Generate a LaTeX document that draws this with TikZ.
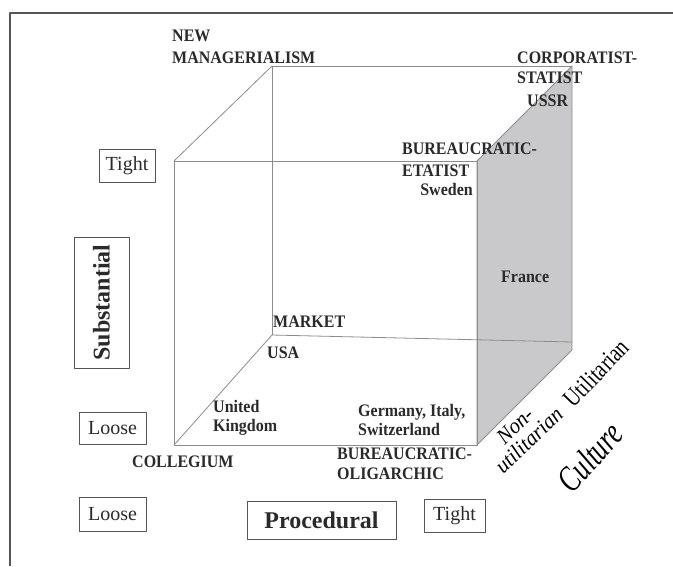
\documentclass[tikz,border=0pt]{standalone}
\usepackage{fontspec}
\setmainfont{Liberation Serif}
\usetikzlibrary{positioning}

\definecolor{txtgray}{HTML}{2A2A2A}
\definecolor{linegray}{HTML}{8C8C8C}
\definecolor{boxgray}{HTML}{555555}
\definecolor{facegray}{HTML}{C9C9CB}

\begin{document}
\begin{tikzpicture}[x=1pt,y=-1pt,line join=round]
	\tikzstyle{lbl}=[inner sep=0,text=txtgray,font=\fontsize{16}{17.5}\selectfont\bfseries,align=left,yscale=1.1]
	\tikzstyle{axisbox}=[draw=boxgray,line width=0.9pt,text=txtgray,inner sep=0,font=\fontsize{20}{24}\selectfont]
	\tikzstyle{axisname}=[axisbox,font=\fontsize{24}{28}\selectfont\bfseries]
	\tikzstyle{edge}=[draw=linegray,line width=0.8pt]
	\tikzstyle{slant}=[inner sep=0,text=black,align=center]

	\useasboundingbox (0,0) rectangle (673,566);
	\draw[line width=1.4pt,draw=boxgray] (10,566) |- (673,13);

	% cube corners
	\coordinate (ftl) at (174,161);
	\coordinate (ftr) at (477,161);
	\coordinate (fbl) at (174,445);
	\coordinate (fbr) at (477,445);
	\coordinate (btl) at (272,66);
	\coordinate (btr) at (572,66);
	\coordinate (bbl) at (272,335);
	\coordinate (bbr) at (572,342);
	\coordinate (sbr) at (572,350);

	% shaded side
	\path[edge,fill=facegray] (ftr) -- (btr) -- (sbr) -- (fbr) -- cycle;

	\path[edge] (btl) -- (btr);
	\path[edge] (btl) -- (bbl);
	\path[edge] (bbl) -- (bbr);
	\path[edge] (ftl) -- (btl);
	\path[edge] (fbl) -- (bbl);
	\path[edge] (ftl) -- (ftr) -- (fbr) -- (fbl) -- cycle;

	% corner labels
	\node[lbl,anchor=north west] (newman) at (172,30) {NEW\\[2.5pt]MANAGERIALISM};
	\node[lbl,anchor=north west] (corpstat) at (517,52) {CORPORATIST-\\STATIST};
	\node[lbl,anchor=base west] (ussr) at (527,106) {USSR};
	\node[lbl,anchor=north west] (bureta) at (402,143) {BUREAUCRATIC-\\[2.5pt]ETATIST};
	\node[lbl,anchor=base east] (sweden) at (473,195) {Sweden};
	\node[lbl,anchor=base west] (france) at (501,282) {France};
	\node[lbl,anchor=base west] (market) at (273,327) {MARKET};
	\node[lbl] (usa) [below right=19pt and -6pt of market.south west] {USA};
	\node[lbl,anchor=north west] (uk) at (213,400) {United\\Kingdom};
	\node[lbl,anchor=north west] (gis) at (358,404) {Germany, Italy,\\Switzerland};
	\node[lbl,anchor=base west] (coll) at (132,467) {COLLEGIUM};
	\node[lbl,anchor=north west] (buroli) at (337,448) {BUREAUCRATIC-\\OLIGARCHIC};

	% axes
	\node[axisbox,minimum width=56pt,minimum height=33pt] (subtight) at (127,166) {Tight};
	\node[axisname,rotate=90,minimum width=131pt,minimum height=55pt] (subst) at (101.5,302.5) {Substantial};
	\node[axisbox,minimum width=67pt,minimum height=32pt] (subloose) at (112.5,428) {Loose};
	\node[axisbox,minimum width=67pt,minimum height=34pt] (procloose) at (112.5,514) {Loose};
	\node[axisname,minimum width=149pt,minimum height=38pt] (proc) at (321.5,520) {Procedural};
	\node[axisbox,minimum width=61pt,minimum height=33pt] (proctight) at (454.5,515.5) {Tight};

	\node[slant,rotate=46,font=\fontsize{25}{25}\selectfont] (util) at (596,373) {\scalebox{0.8}[1]{Utilitarian}};
	\node[slant,rotate=44,font=\fontsize{22}{20}\selectfont\itshape] (nonutil) at (522,433) {\scalebox{0.95}[1]{Non-}\\\scalebox{0.95}[1]{utilitarian}};
	\node[slant,rotate=48,font=\fontsize{36}{36}\selectfont\itshape] (culture) at (590,457) {\scalebox{0.72}[1]{Culture}};
\end{tikzpicture}
\end{document}
